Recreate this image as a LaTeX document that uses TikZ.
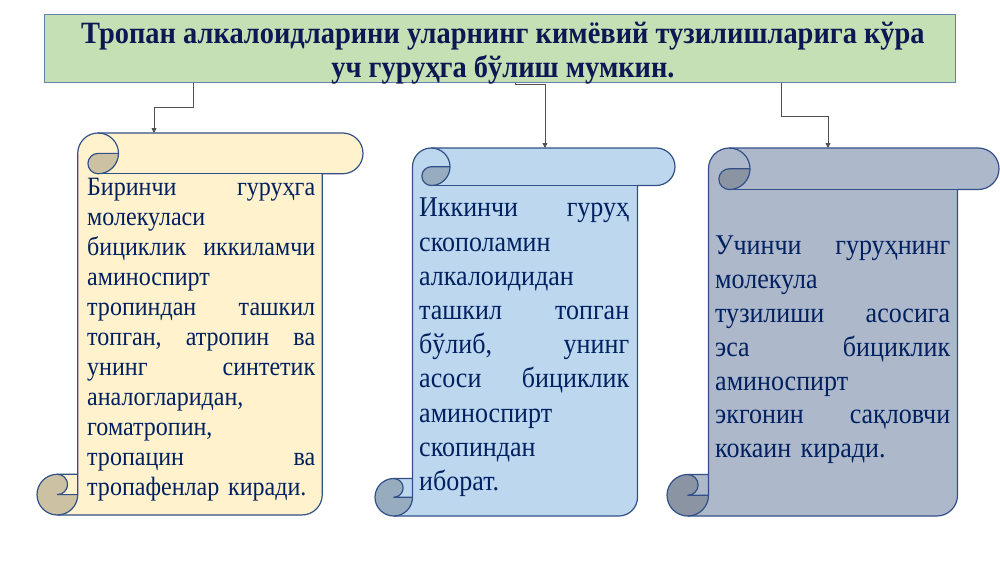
\documentclass[tikz,border=0pt]{standalone}
\usepackage{fontspec}
\setmainfont{Liberation Serif}
\newfontfamily\titlefont{Liberation Serif}[FakeStretch=0.917]
\newfontfamily\bodyfont{Liberation Serif}[FakeStretch=0.91]
\usetikzlibrary{arrows.meta,calc}
\definecolor{navy}{RGB}{0,32,96}
\definecolor{titlenavy}{RGB}{12,24,84}
\definecolor{titlefill}{RGB}{197,224,180}
\definecolor{titleline}{RGB}{100,130,170}
\definecolor{scrollline}{RGB}{50,80,135}
\definecolor{connline}{RGB}{80,80,80}
\definecolor{fillA}{RGB}{255,242,204}
\definecolor{darkA}{RGB}{204,194,163}
\definecolor{fillB}{RGB}{189,215,238}
\definecolor{darkB}{RGB}{151,172,190}
\definecolor{fillC}{RGB}{173,185,202}
\definecolor{darkC}{RGB}{138,148,162}
\tikzset{
  titlebox/.style={draw=titleline, line width=1pt, fill=titlefill, inner sep=0pt},
  titletext/.style={anchor=north, inner sep=0pt, text=titlenavy, align=center,
    font=\titlefont\fontsize{31}{34}\selectfont\bfseries},
  scrollout/.style={draw=scrollline, line width=1.2pt, line join=round},
  conn/.style={draw=connline, line width=0.8pt, -{Triangle[length=5pt,width=5pt]}},
  scrolltext/.style={anchor=north west, align=left, inner sep=0pt, text=navy},
  scrollbox/.style={inner sep=0pt}
}
% #1 l, #2 t, #3 r, #4 b, #5 fill, #6 dark, #7 name
\newcommand\drawscroll[7]{%
  \pgfmathsetmacro\scW{#3-#1}%
  \pgfmathsetmacro\scH{#4-#2}%
  \pgfmathsetmacro\scA{0.125*\scW}%
  \pgfmathsetmacro\scB{\scA/2}%
  \pgfmathsetmacro\scC{\scA/4}%
  \pgfmathsetmacro\scXiii{\scA+\scB}%
  \pgfmathsetmacro\scXiv{2*\scA}%
  \pgfmathsetmacro\scXvi{\scW-\scA}%
  \pgfmathsetmacro\scXvii{\scW-\scB}%
  \pgfmathsetmacro\scXv{\scXvi-\scB}%
  \pgfmathsetmacro\scYiii{\scH-\scA}%
  \pgfmathsetmacro\scYiv{\scH-\scB}%
  \begin{scope}[shift={(#1,#2)}]
    % body fill
    \fill[#5] (\scA,\scYiii) -- (\scA,\scB) arc[start angle=180, delta angle=90, radius=\scB]
      -- (\scXvii,0) arc[start angle=270, delta angle=180, radius=\scB]
      -- (\scXvi,\scA) -- (\scXvi,\scYiv) arc[start angle=0, delta angle=90, radius=\scB]
      -- (\scB,\scH) arc[start angle=90, delta angle=180, radius=\scB] -- cycle;
    % dark curls
    \fill[#6] (\scXiv,\scB) arc[start angle=0, delta angle=90, radius=\scB]
      arc[start angle=90, delta angle=180, radius=\scC] -- cycle;
    \fill[#6] (\scB,\scYiii) arc[start angle=270, delta angle=-270, radius=\scB]
      -- (\scB,\scYiv) arc[start angle=90, delta angle=-180, radius=\scC] -- cycle;
    % outlines
    \draw[scrollout] (\scA,\scYiii) -- (\scA,\scB) arc[start angle=180, delta angle=90, radius=\scB]
      -- (\scXvii,0) arc[start angle=270, delta angle=180, radius=\scB]
      -- (\scXvi,\scA) -- (\scXvi,\scYiv) arc[start angle=0, delta angle=90, radius=\scB]
      -- (\scB,\scH) arc[start angle=90, delta angle=180, radius=\scB] -- cycle;
    \draw[scrollout] (\scXiii,0) arc[start angle=270, delta angle=180, radius=\scB]
      arc[start angle=90, delta angle=180, radius=\scC] -- (\scXiv,\scB);
    \draw[scrollout] (\scXvi,\scA) -- (\scXiii,\scA);
    \draw[scrollout] (\scB,\scYiii) arc[start angle=270, delta angle=180, radius=\scC] -- (\scA,\scYiv);
    \draw[scrollout] (\scB,\scH) arc[start angle=90, delta angle=-90, radius=\scB] -- (\scA,\scYiii);
    \node[scrollbox, anchor=north west, minimum width=\scW pt, minimum height=\scH pt] (#7) at (0,0) {};
  \end{scope}%
}
\begin{document}
\begin{tikzpicture}[x=1pt,y=-1pt]
\useasboundingbox[fill=white] (0,0) rectangle (1000,562);

\node[titlebox, minimum width=911pt, minimum height=68pt] (title) at (499.5,48) {};
\node[titletext] (titletxt) at (503,21.5)
  {Тропан алкалоидларини уларнинг кимёвий тузилишларига кўра\\уч гуруҳга бўлиш мумкин.};

\drawscroll{37}{133}{363}{515}{fillA}{darkA}{s1}
\drawscroll{375}{148}{675}{516}{fillB}{darkB}{s2}
\drawscroll{667}{148}{999}{516}{fillC}{darkC}{s3}

\node[scrolltext, text width=228pt, font=\bodyfont\fontsize{26.4}{30}\selectfont] (t1) at (87,178.5)
  {Биринчи \hfill гуруҳга\\
   молекуласи\\
   бициклик \hfill иккиламчи\\
   аминоспирт\\
   тропиндан \hfill ташкил\\
   топган, \hfill атропин \hfill ва\\
   унинг \hfill синтетик\\
   аналогларидан,\\
   гоматропин,\\
   тропацин \hfill ва\\
   тропафенлар киради.};

\node[scrolltext, text width=210pt, font=\bodyfont\fontsize{28.6}{34.2}\selectfont] (t2) at (419,198)
  {Иккинчи \hfill гуруҳ\\
   скополамин\\
   алкалоидидан\\
   ташкил \hfill топган\\
   бўлиб, \hfill унинг\\
   асоси \hfill бициклик\\
   аминоспирт\\
   скопиндан\\
   иборат.};

\node[scrolltext, text width=235pt, font=\bodyfont\fontsize{28.6}{33.8}\selectfont] (t3) at (715,236)
  {Учинчи \hfill гуруҳнинг\\
   молекула\\
   тузилиши \hfill асосига\\
   эса \hfill бициклик\\
   аминоспирт\\
   экгонин \hfill сақловчи\\
   кокаин киради.};

\draw[conn] ([xshift=-306.5pt]title.south) -- ++(0,25) -| ([xshift=117pt]s1.north west);
\draw[conn] ([xshift=15.5pt]title.south) -- ++(0,2) -| ([xshift=170pt]s2.north west);
\draw[conn] ([xshift=281.5pt]title.south) -- ++(0,34) -| ([xshift=161pt]s3.north west);
\end{tikzpicture}
\end{document}
